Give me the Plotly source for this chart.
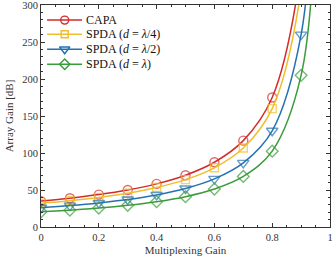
import plotly.graph_objects as go

# Multiplexing gain samples (markers every 0.1, extra unmarked sample for curve tail)
mux_gain = [0.0, 0.1, 0.2, 0.3, 0.4, 0.5, 0.6, 0.7, 0.8, 0.9, 0.95]
marker_flags = [1, 1, 1, 1, 1, 1, 1, 1, 1, 1, 0]

capa = [35.0, 38.9, 43.8, 50.0, 58.3, 70.0, 87.5, 116.7, 175.0, 350.0, 700.0]
spda_q = [32.0, 35.6, 40.0, 45.7, 53.3, 64.0, 80.0, 106.7, 160.0, 320.0, 640.0]
spda_h = [26.0, 28.9, 32.5, 37.1, 43.3, 52.0, 65.0, 86.7, 130.0, 260.0, 520.0]
spda_1 = [20.5, 22.8, 25.6, 29.3, 34.2, 41.0, 51.3, 68.3, 102.5, 205.0, 410.0]

names = ["CAPA",
         "SPDA (<i>d</i> = <i>λ</i>/4)",
         "SPDA (<i>d</i> = <i>λ</i>/2)",
         "SPDA (<i>d</i> = <i>λ</i>)"]
colors = ["#D22B2B", "#F0BE2A", "#2472B0", "#3A9B3A"]
symbols = ["circle-open", "square-open", "triangle-down-open", "diamond-open"]
sizes = [9, 8, 10, 9]
series = [capa, spda_q, spda_h, spda_1]

SERIF = "Liberation Serif"
INK = "#333333"

fig = go.Figure()
for name, ys, c, s, sz in zip(names, series, colors, symbols, sizes):
    fig.add_trace(go.Scatter(
        x=mux_gain, y=ys, name=name, mode="lines+markers", showlegend=False,
        line=dict(color=c, width=1.5, shape="spline", smoothing=1.0),
        marker=dict(symbol=s, size=[sz * f for f in marker_flags], color=c,
                    line=dict(color=c, width=1.4)),
        cliponaxis=True,
    ))

# Legend (drawn manually for compact row spacing) in paper coordinates
leg_line_x0, leg_line_x1, leg_mark_x, leg_text_x = 0.021, 0.142, 0.082, 0.149
leg_rows = [0.932, 0.868, 0.8005, 0.733]
for name, c, s, sz, ly in zip(names, colors, symbols, sizes, leg_rows):
    fig.add_shape(type="line", xref="paper", yref="paper",
                  x0=leg_line_x0, x1=leg_line_x1, y0=ly, y1=ly,
                  line=dict(color=c, width=1.5))
    fig.add_trace(go.Scatter(
        x=[leg_mark_x], y=[ly], xaxis="x2", yaxis="y2", mode="markers",
        showlegend=False, hoverinfo="skip",
        marker=dict(symbol=s, size=sz - 1, color=c, line=dict(color=c, width=1.4)),
    ))
    fig.add_annotation(x=leg_text_x, y=ly, xref="paper", yref="paper",
                       text=name, showarrow=False, xanchor="left", yanchor="middle",
                       font=dict(family=SERIF, size=12, color="#111111"))

axis_common = dict(
    showline=True, linecolor=INK, linewidth=1, mirror="ticks",
    ticks="inside", ticklen=4, tickcolor=INK, showgrid=False, zeroline=False,
    automargin=False, ticklabeloverflow="allow",
    tickfont=dict(family=SERIF, size=10.5, color=INK),
)
fig.update_layout(
    xaxis=dict(range=[0, 1], dtick=0.2, tick0=0,
               minor=dict(dtick=0.05, ticks="inside", ticklen=2, tickcolor=INK),
               title=dict(text="Multiplexing Gain", standoff=4,
                          font=dict(family=SERIF, size=11, color=INK)),
               **axis_common),
    yaxis=dict(range=[0, 300], dtick=50, tick0=0,
               minor=dict(dtick=10, ticks="inside", ticklen=2, tickcolor=INK),
               title=dict(text="Array Gain [dB]", standoff=6,
                          font=dict(family=SERIF, size=11, color=INK)),
               **axis_common),
    xaxis2=dict(overlaying="x", range=[0, 1], visible=False, fixedrange=True),
    yaxis2=dict(overlaying="y", range=[0, 1], visible=False, fixedrange=True),
    width=333, height=265,
    margin=dict(l=41, r=3, t=5, b=38),
    plot_bgcolor="white", paper_bgcolor="white",
    showlegend=False,
)

fig.write_html("out.html", config={"displayModeBar": False},
               post_script="document.body.style.margin='0';")
